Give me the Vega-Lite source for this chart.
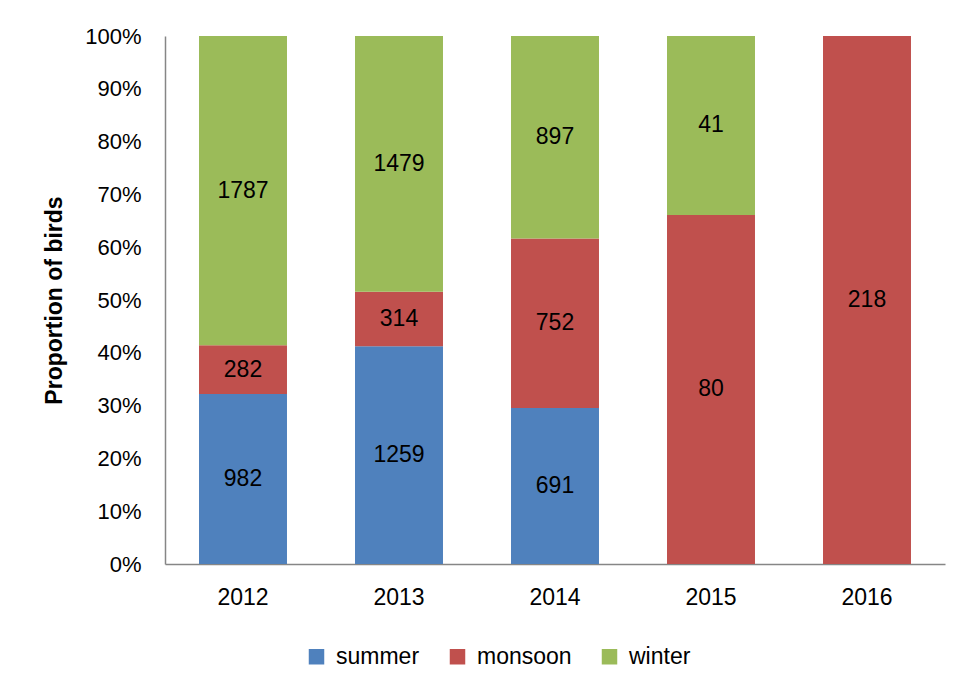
{
  "$schema": "https://vega.github.io/schema/vega-lite/v6.json",
  "width": 780,
  "height": 528,
  "autosize": "none",
  "padding": {"left": 165, "top": 36, "right": 16, "bottom": 128},
  "background": "white",
  "config": {
    "view": {"stroke": null},
    "font": "Liberation Sans"
  },
  "data": {
    "values": [
      {"year": "2012", "season": "summer", "order": 1, "birds": 982},
      {"year": "2012", "season": "monsoon", "order": 2, "birds": 282},
      {"year": "2012", "season": "winter", "order": 3, "birds": 1787},
      {"year": "2013", "season": "summer", "order": 1, "birds": 1259},
      {"year": "2013", "season": "monsoon", "order": 2, "birds": 314},
      {"year": "2013", "season": "winter", "order": 3, "birds": 1479},
      {"year": "2014", "season": "summer", "order": 1, "birds": 691},
      {"year": "2014", "season": "monsoon", "order": 2, "birds": 752},
      {"year": "2014", "season": "winter", "order": 3, "birds": 897},
      {"year": "2015", "season": "monsoon", "order": 2, "birds": 80},
      {"year": "2015", "season": "winter", "order": 3, "birds": 41},
      {"year": "2016", "season": "monsoon", "order": 2, "birds": 218}
    ]
  },
  "transform": [
    {"stack": "birds", "groupby": ["year"], "sort": [{"field": "order", "order": "ascending"}], "offset": "normalize", "as": ["y0", "y1"]},
    {"calculate": "(datum.y0 + datum.y1) / 2", "as": "ymid"}
  ],
  "layer": [
    {
      "mark": {"type": "bar"},
      "encoding": {
        "x": {
          "field": "year", "type": "nominal",
          "scale": {"paddingInner": 0.436, "paddingOuter": 0.218},
          "axis": {"title": null, "labelAngle": 0, "labelFontSize": 23, "labelColor": "#000000", "labelPadding": 22, "ticks": false, "domainColor": "#868686", "domainWidth": 1.5}
        },
        "y": {
          "field": "y0", "type": "quantitative",
          "scale": {"domain": [0, 1]},
          "axis": {"title": "Proportion of birds", "titleFontSize": 23, "titleFontWeight": "bold", "titleColor": "#000000", "titlePadding": 18, "format": ".0%", "values": [0,0.1,0.2,0.3,0.4,0.5,0.6,0.7,0.8,0.9,1], "labelOverlap": false, "labelFontSize": 22, "labelColor": "#000000", "labelPadding": 24, "ticks": false, "grid": false, "domainColor": "#868686", "domainWidth": 1.5}
        },
        "y2": {"field": "y1"},
        "color": {
          "field": "season", "type": "nominal",
          "scale": {"domain": ["summer", "monsoon", "winter"], "range": ["#4F81BD", "#C0504D", "#9BBB59"]},
          "legend": {"title": null, "orient": "none", "legendX": 140, "legendY": 609, "direction": "horizontal", "symbolType": "square", "symbolSize": 240, "symbolStrokeWidth": 0, "labelFontSize": 23, "labelColor": "#000000", "columnPadding": 26, "labelOffset": 8}
        }
      }
    },
    {
      "mark": {"type": "text", "fontSize": 23, "color": "#000000"},
      "encoding": {
        "x": {"field": "year", "type": "nominal"},
        "y": {"field": "ymid", "type": "quantitative"},
        "text": {"field": "birds", "type": "quantitative"}
      }
    }
  ]
}
